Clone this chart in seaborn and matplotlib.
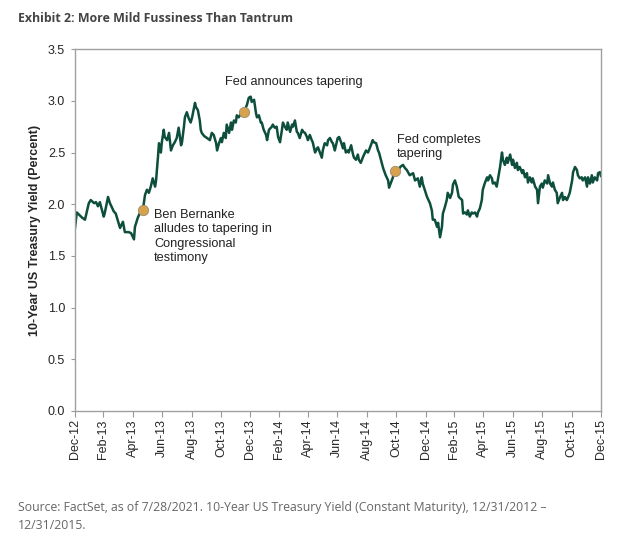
import pandas as pd
import matplotlib
matplotlib.use("Agg")
import matplotlib.pyplot as plt
import matplotlib.dates as mdates
import seaborn as sns

# 10-year US Treasury yield (days after 2012-12-31, percent)
day_offsets = [
    0, 4, 15, 21, 29, 33, 40, 44, 48, 52, 60, 62, 69, 73, 81, 85, 92, 94, 100, 104,
    112, 117, 123, 125, 131, 135, 142, 146, 150, 154, 158, 162, 167, 169, 173, 175, 179, 181, 185, 187,
    192, 196, 200, 204, 208, 212, 216, 221, 223, 227, 229, 233, 237, 241, 244, 250, 252, 256, 260, 262,
    264, 269, 275, 281, 285, 289, 294, 296, 300, 304, 306, 310, 314, 316, 321, 325, 327, 331, 335, 337,
    341, 346, 352, 358, 362, 366, 368, 373, 377, 379, 383, 387, 389, 393, 398, 400, 404, 408, 410, 412,
    416, 420, 423, 427, 431, 433, 437, 441, 443, 448, 452, 454, 458, 462, 464, 468, 473, 475, 479, 483,
    485, 489, 493, 495, 500, 504, 506, 510, 514, 516, 520, 525, 527, 531, 535, 537, 541, 545, 547, 550,
    554, 558, 560, 564, 568, 570, 575, 579, 581, 585, 589, 591, 595, 600, 602, 606, 610, 612, 616, 620,
    622, 627, 631, 633, 637, 641, 643, 647, 652, 654, 658, 662, 664, 668, 672, 677, 683, 687, 691, 697,
    704, 708, 714, 718, 722, 724, 733, 739, 743, 745, 749, 754, 756, 760, 764, 766, 770, 774, 776, 781,
    785, 787, 791, 795, 799, 806, 808, 812, 816, 818, 822, 826, 829, 833, 837, 839, 843, 847, 849, 853,
    858, 860, 864, 868, 870, 874, 878, 881, 885, 889, 891, 895, 899, 901, 906, 910, 912, 916, 920, 922,
    926, 931, 933, 937, 941, 943, 947, 951, 953, 958, 962, 964, 968, 972, 974, 978, 983, 985, 989, 993,
    995, 999, 1003, 1005, 1010, 1014, 1016, 1020, 1024, 1026, 1030, 1035, 1037, 1041, 1045, 1047, 1051, 1055, 1057, 1062,
    1066, 1068, 1072, 1076, 1078, 1082, 1087, 1089, 1093, 1095,
]
yields = [
    1.76, 1.92, 1.87, 1.85, 2.01, 2.04, 2.01, 2.02, 1.98, 2.02, 1.88, 1.91, 2.07, 2.01, 1.93, 1.91, 1.80, 1.77, 1.83, 1.73,
    1.73, 1.72, 1.66, 1.78, 1.87, 1.91, 1.96, 2.09, 2.14, 2.11, 2.17, 2.25, 2.17, 2.23, 2.46, 2.59, 2.50, 2.60, 2.72, 2.65,
    2.62, 2.69, 2.52, 2.57, 2.60, 2.64, 2.74, 2.57, 2.60, 2.75, 2.84, 2.89, 2.83, 2.79, 2.84, 2.98, 2.94, 2.91, 2.81, 2.72,
    2.69, 2.66, 2.64, 2.62, 2.69, 2.67, 2.59, 2.52, 2.59, 2.64, 2.60, 2.69, 2.64, 2.77, 2.69, 2.79, 2.72, 2.81, 2.79, 2.86,
    2.84, 2.88, 2.89, 2.96, 3.03, 3.04, 2.99, 3.01, 2.88, 2.84, 2.86, 2.79, 2.79, 2.72, 2.67, 2.62, 2.72, 2.74, 2.75, 2.77,
    2.74, 2.75, 2.65, 2.60, 2.72, 2.79, 2.75, 2.72, 2.79, 2.70, 2.77, 2.75, 2.81, 2.70, 2.69, 2.64, 2.72, 2.70, 2.69, 2.65,
    2.62, 2.67, 2.62, 2.60, 2.50, 2.54, 2.55, 2.50, 2.45, 2.52, 2.59, 2.57, 2.62, 2.64, 2.60, 2.59, 2.52, 2.60, 2.64, 2.65,
    2.60, 2.54, 2.59, 2.50, 2.52, 2.50, 2.57, 2.48, 2.45, 2.43, 2.48, 2.43, 2.40, 2.46, 2.48, 2.52, 2.50, 2.52, 2.57, 2.62,
    2.60, 2.59, 2.52, 2.50, 2.43, 2.36, 2.33, 2.28, 2.23, 2.16, 2.21, 2.26, 2.31, 2.32, 2.31, 2.36, 2.38, 2.35, 2.33, 2.28,
    2.30, 2.23, 2.25, 2.17, 2.26, 2.20, 2.07, 2.01, 1.94, 1.85, 1.85, 1.78, 1.82, 1.68, 1.78, 1.91, 1.97, 2.04, 2.11, 2.06,
    2.11, 2.19, 2.23, 2.17, 2.07, 2.04, 1.91, 1.92, 1.90, 1.94, 1.88, 1.92, 1.91, 1.92, 1.88, 1.92, 1.96, 2.04, 2.14, 2.20,
    2.26, 2.23, 2.28, 2.25, 2.20, 2.21, 2.17, 2.25, 2.36, 2.50, 2.43, 2.38, 2.45, 2.40, 2.48, 2.38, 2.43, 2.35, 2.40, 2.33,
    2.36, 2.30, 2.33, 2.26, 2.30, 2.21, 2.26, 2.21, 2.25, 2.17, 2.14, 2.01, 2.17, 2.20, 2.16, 2.23, 2.20, 2.28, 2.20, 2.17,
    2.21, 2.14, 2.11, 2.01, 2.07, 2.11, 2.04, 2.07, 2.04, 2.06, 2.11, 2.23, 2.31, 2.36, 2.33, 2.28, 2.25, 2.26, 2.23, 2.26,
    2.17, 2.26, 2.20, 2.28, 2.21, 2.26, 2.23, 2.30, 2.31, 2.27,
]

event_dates = ["2013-05-22", "2013-12-18", "2014-10-29"]
event_yields = [1.94, 2.89, 2.32]
event_labels = [
    "Ben Bernanke\nalludes to tapering in\nCongressional\ntestimony",
    "Fed announces tapering",
    "Fed completes\ntapering",
]

df = pd.DataFrame({
    "date": pd.Timestamp("2012-12-31") + pd.to_timedelta(day_offsets, unit="D"),
    "yield": yields,
})
events = pd.DataFrame({"date": pd.to_datetime(event_dates), "yield": event_yields})

sns.set_style("white")
plt.rcParams["font.family"] = ["Liberation Sans", "DejaVu Sans"]

fig = plt.figure(figsize=(6.4, 5.4), dpi=100)
ax = fig.add_axes([0.117, 0.239, 0.822, 0.670])

sns.lineplot(data=df, x="date", y="yield", color="#0d4f3c", linewidth=1.8, ax=ax)
sns.scatterplot(data=events, x="date", y="yield", color="#d6a24e", edgecolor="#9a8a6a",
                linewidth=0.6, s=55, zorder=5, ax=ax)

offsets = [(8, 1), (36, 22), (1, 27)]
aligns = [("left", "top"), ("center", "center"), ("left", "top")]
for d, v, lab, off, (ha, va) in zip(events["date"], event_yields, event_labels, offsets, aligns):
    ax.annotate(lab, (d, v), xytext=off, textcoords="offset points", ha=ha, va=va,
                fontsize=9.2, color="#222222", linespacing=1.25)

ax.set_ylim(0, 3.5)
ax.set_yticks([0, 0.5, 1.0, 1.5, 2.0, 2.5, 3.0, 3.5])
ax.yaxis.set_major_formatter(plt.FormatStrFormatter("%.1f"))
ax.set_xlim(pd.Timestamp("2012-12-31"), pd.Timestamp("2015-12-31"))
ax.set_xticks(pd.date_range("2012-12-31", "2015-12-31", freq="2ME"))
ax.xaxis.set_major_formatter(mdates.DateFormatter("%b-%y"))
ax.tick_params(axis="x", rotation=90, labelsize=9, length=4, width=0.8, color="#999999",
               direction="out", bottom=True, pad=2)
ax.tick_params(axis="y", labelsize=9, length=3, width=0.8, color="#999999",
               direction="out", left=True, pad=4)
ax.set_xlabel("")
ax.set_ylabel("10-Year US Treasury Yield (Percent)", fontsize=9, fontweight="bold", labelpad=5)
for s in ax.spines.values():
    s.set_color("#a0a0a0")
    s.set_linewidth(1.0)

fig.text(0.028, 0.978, "Exhibit 2: More Mild Fussiness Than Tantrum", family=["Open Sans", "DejaVu Sans"],
         fontsize=8.9, fontweight="bold", color="#444444", ha="left", va="top")
fig.text(0.028, 0.072, "Source: FactSet, as of 7/28/2021. 10-Year US Treasury Yield (Constant Maturity), 12/31/2012 \u2013\n12/31/2015.",
         family=["Open Sans", "DejaVu Sans"], fontsize=8.8, color="#666666", ha="left", va="top",
         linespacing=1.5)

fig.savefig("out.png", dpi=100, facecolor="white")
